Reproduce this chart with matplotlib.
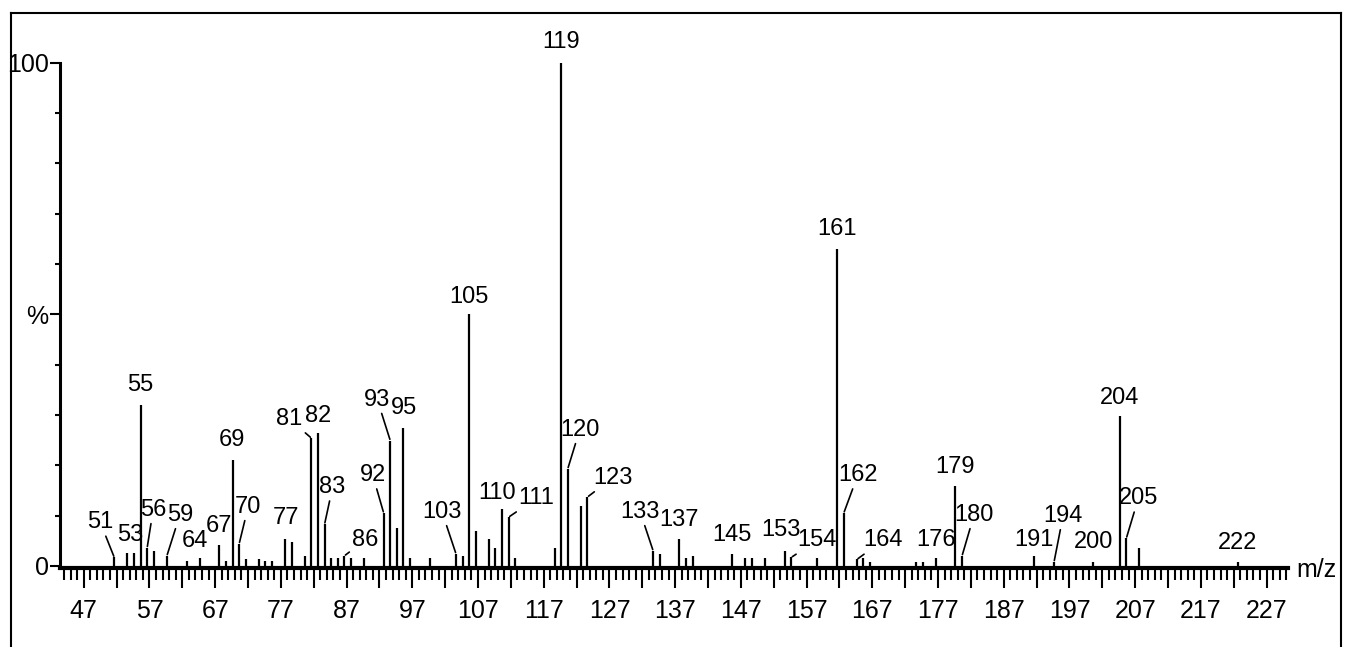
import matplotlib
matplotlib.use("Agg")
import matplotlib.pyplot as plt
import numpy as np
from matplotlib.lines import Line2D

# ---- data (m/z, relative intensity %) ----
mz = [51, 53, 54, 55, 56, 57, 59, 62, 64, 67, 68, 69, 70, 71, 73, 74, 75, 77, 78,
      80, 81, 82, 83, 84, 85, 86, 87, 89, 92, 93, 94, 95, 96, 99, 103, 104, 105,
      106, 108, 109, 110, 111, 112, 118, 119, 120, 122, 123, 133, 134, 137, 138,
      139, 145, 147, 148, 150, 153, 154, 158, 161, 162, 164, 165, 166, 173, 174,
      176, 179, 180, 191, 194, 200, 204, 205, 207, 222]
intensity = [1.7, 2.5, 2.5, 32.0, 3.6, 3.0, 2.0, 1.0, 1.5, 4.2, 1.0, 21.0, 4.4, 1.4,
             1.4, 0.9, 0.9, 5.3, 4.8, 2.0, 25.4, 26.5, 8.3, 1.5, 1.5, 2.0, 1.5, 1.5,
             10.5, 24.9, 7.5, 27.5, 1.5, 1.5, 2.4, 2.0, 50.0, 7.0, 5.3, 3.5, 11.3,
             9.7, 1.5, 3.6, 100.0, 19.3, 12.0, 13.7, 3.0, 2.4, 5.3, 1.5, 2.0, 2.4,
             1.5, 1.5, 1.5, 3.0, 1.7, 1.5, 63.0, 10.5, 1.3, 1.5, 0.8, 0.8, 0.8, 1.5,
             15.9, 2.0, 2.0, 0.8, 0.8, 29.8, 5.5, 3.6, 0.8]
x_tick_labels = list(range(47, 228, 10))
y_tick_labels = ["0", "%", "100"]

# ---- label layout: m/z -> (dx px, dy px, leader line) ----
label_layout = {
    51: (-14, 35, True), 53: (3, 18, False), 55: (0, 20, False), 56: (6, 38, True),
    59: (13, 41, True), 64: (-5, 17, False), 67: (0, 19, False), 69: (-1, 20, False),
    70: (9, 37, True), 77: (1, 21, False), 81: (-22, 19, True), 82: (0, 17, False),
    83: (8, 37, True), 86: (21, 16, True), 92: (-11, 38, True), 93: (-13, 41, True),
    95: (1, 20, False), 103: (-14, 42, True), 105: (0, 17, False), 110: (-5, 16, False),
    111: (28, 19, True), 119: (0, 21, False), 120: (12, 39, True), 123: (25, 19, True),
    133: (-13, 39, True), 137: (0, 19, False), 145: (0, 19, False), 153: (-4, 21, False),
    154: (26, 17, True), 161: (0, 20, False), 162: (14, 38, True), 164: (26, 19, True),
    176: (0, 18, False), 179: (0, 19, False), 180: (12, 41, True), 191: (0, 16, False),
    194: (9, 46, True), 200: (0, 20, False), 204: (0, 18, False), 205: (12, 40, True),
    222: (0, 19, False),
}

FONT = ["Liberation Sans Narrow", "Liberation Sans", "DejaVu Sans"]
FS_PEAK = 17
FS_TICK = 18
tick_shift = -0.65

W, H = 1347, 647
fig = plt.figure(figsize=(W / 100, H / 100), dpi=100)

ax_left, ax_right = 60, 1288
ax_top, ax_bottom = 62.7, 568
ax = fig.add_axes([ax_left / W, (H - ax_bottom) / H,
                   (ax_right - ax_left) / W, (ax_bottom - ax_top) / H])

ax.vlines(mz, 0, intensity, color="black", lw=1.6)
ax.set_xlim(42.74, 229.6)
ax.set_ylim(-0.4, 100)

for s in ("top", "right"):
    ax.spines[s].set_visible(False)
ax.spines["left"].set_linewidth(2.2)
ax.spines["bottom"].set_linewidth(3.0)
ax.spines["left"].set_bounds(0, 100)

# x ticks
major_pos = [v + tick_shift for v in range(47, 230, 5)]
major_lab = [str(v) if v in x_tick_labels else "" for v in range(47, 230, 5)]
ax.set_xticks(major_pos)
ax.set_xticklabels(major_lab)
ax.set_xticks([v + tick_shift for v in range(44, 231)], minor=True)
ax.tick_params(axis="x", which="major", direction="out", length=14.5, width=1.5, pad=7.5)
ax.tick_params(axis="x", which="minor", direction="out", length=8.5, width=1.5)

# y ticks
ax.set_yticks([0, 50, 100])
ax.set_yticklabels(y_tick_labels)
ax.set_yticks(np.arange(0, 101, 10), minor=True)
ax.tick_params(axis="y", which="major", direction="out", length=7.2, width=1.5, pad=1)
ax.tick_params(axis="y", which="minor", direction="out", length=3.6, width=1.5)

for lab in ax.get_xticklabels() + ax.get_yticklabels():
    lab.set_family(FONT)
    lab.set_fontsize(FS_TICK)

# peak labels
h_of = dict(zip(mz, intensity))
for m, (dx, dy, leader) in label_layout.items():
    kw = dict(xy=(m, h_of[m]), xytext=(dx, dy), textcoords="offset pixels",
              ha="center", va="center", fontsize=FS_PEAK, family=FONT,
              annotation_clip=False)
    if leader:
        kw["arrowprops"] = dict(arrowstyle="-", lw=1.2, color="black",
                                shrinkA=0, shrinkB=1)
    ax.annotate(str(m), **kw)

ax.annotate("m/z", xy=(229.6, 0), xytext=(8, -4), textcoords="offset pixels",
            ha="left", va="center", fontsize=FS_TICK, family=FONT, annotation_clip=False)

# outer frame
def fx(px):
    return px / W

def fy(py):
    return 1 - py / H

fig.add_artist(Line2D([fx(11), fx(1341)], [fy(13), fy(13)], color="black", lw=1.5))
fig.add_artist(Line2D([fx(11), fx(11)], [fy(13), 0], color="black", lw=1.5))
fig.add_artist(Line2D([fx(1341), fx(1341)], [fy(13), 0], color="black", lw=1.5))

fig.savefig("out.png", dpi=100)
